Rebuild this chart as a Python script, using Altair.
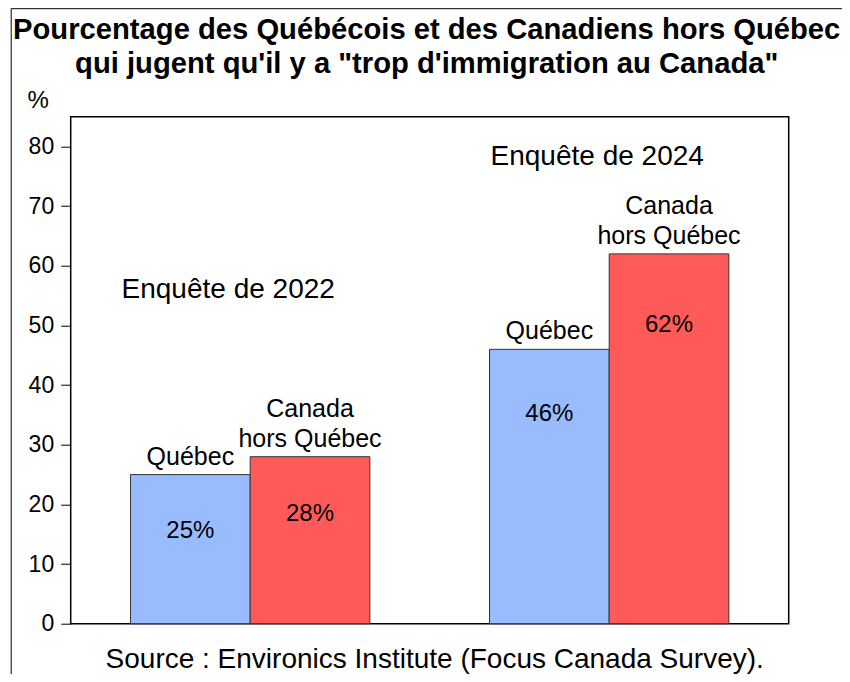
import altair as alt
import pandas as pd

FONT = "Liberation Sans"

years = ["2022", "2024"]
regions = ["Québec", "Canada hors Québec"]
region_labels = ["Québec", "Canada\nhors Québec"]
quebec = [25, 46]
canada_hq = [28, 62]
survey_labels = ["Enquête de 2022", "Enquête de 2024"]
y_ticks = [0, 10, 20, 30, 40, 50, 60, 70, 80]
title_lines = [
    "Pourcentage des Québécois et des Canadiens hors Québec",
    "qui jugent qu'il y a \"trop d'immigration au Canada\"",
]
source_text = "Source : Environics Institute (Focus Canada Survey)."
colors = ["#99BBFF", "#FF5A5A"]

rows = []
for i, yr in enumerate(years):
    rows.append(dict(year=yr, region=regions[0], label=region_labels[0], value=quebec[i]))
    rows.append(dict(year=yr, region=regions[1], label=region_labels[1], value=canada_hq[i]))
df = pd.DataFrame(rows)
df["pct"] = df["value"].astype(str) + "%"

Y_MAX = 85
PLOT_H = 507
LINE_H = 30

xscale = alt.Scale(domain=years, paddingInner=0, paddingOuter=0)
x = alt.X("year:N", sort=years, axis=None, scale=xscale)
xo = alt.XOffset("region:N", sort=regions,
                 scale=alt.Scale(domain=regions, paddingInner=0, paddingOuter=0.5))
yscale = alt.Scale(domain=[0, Y_MAX], nice=False)
yaxis = alt.Axis(values=y_ticks, title="%", titleAngle=0, titleX=-33, titleY=-16,
                 titleAlign="center", titleBaseline="middle", titleFontSize=24,
                 titleFontWeight="normal", titleFont=FONT, titleColor="black",
                 tickSize=10, tickColor="black", tickWidth=1, domain=False,
                 grid=False, labelFontSize=23, labelFont=FONT, labelColor="black",
                 labelPadding=7)

base = alt.Chart(df).encode(x=x, xOffset=xo)

bars = base.mark_bar(stroke="#333333", strokeWidth=1).encode(
    y=alt.Y("value:Q", scale=yscale, axis=yaxis, title="%"),
    fill=alt.Fill("region:N", scale=alt.Scale(domain=regions, range=colors), legend=None),
)

# multi-line labels: raise the first line so that the last line sits just above the bar
names = base.transform_calculate(
    name_y=f"datum.value + {LINE_H * Y_MAX / PLOT_H}*(length(split(datum.label, '\\n'))-1)"
).mark_text(baseline="bottom", dy=-5, lineBreak="\n", fontSize=25,
            font=FONT, lineHeight=LINE_H, color="black").encode(
    y=alt.Y("name_y:Q", scale=yscale, axis=yaxis, title="%"),
    text="label:N",
)

values = base.transform_calculate(label_y="datum.value*0.933-7.8").mark_text(
    baseline="middle", fontSize=24, font=FONT, color="black").encode(
    y=alt.Y("label_y:Q", scale=yscale, axis=yaxis, title="%"),
    text="pct:N",
)

ann_df = pd.DataFrame({"year": years, "t": survey_labels})
ann1 = alt.Chart(ann_df).transform_filter(alt.datum.year == "2022").mark_text(
    fontSize=28, font=FONT, dx=-22, baseline="middle", color="black").encode(
    x=x, y=alt.value(173), text="t:N")
ann2 = alt.Chart(ann_df).transform_filter(alt.datum.year == "2024").mark_text(
    fontSize=28, font=FONT, dx=-12, baseline="middle", color="black").encode(
    x=x, y=alt.value(40), text="t:N")

title = alt.Chart(pd.DataFrame({"t": ["\n".join(title_lines)]})).mark_text(
    fontSize=29.2, font=FONT, fontWeight="bold", baseline="alphabetic", lineBreak="\n",
    lineHeight=34, align="center", color="black").encode(
    x=alt.value(356), y=alt.value(-78), text="t:N")

src = alt.Chart(pd.DataFrame({"t": [source_text]})).mark_text(
    fontSize=28, font=FONT, baseline="alphabetic", color="black").encode(
    x=alt.value(364), y=alt.value(551), text="t:N")

frame_left = alt.Chart(pd.DataFrame({"a": [0]})).mark_rule(color="black", strokeWidth=1).encode(
    x=alt.value(-59.5), y=alt.value(-108), y2=alt.value(700))
frame_top = alt.Chart(pd.DataFrame({"a": [0]})).mark_rule(color="black", strokeWidth=1).encode(
    x=alt.value(-59.5), x2=alt.value(900), y=alt.value(-108))

chart = alt.layer(bars, names, values, ann1, ann2, title, src, frame_left, frame_top).properties(
    width=718,
    height=PLOT_H,
    autosize=alt.AutoSizeParams(type="none"),
    padding={"left": 62.7, "top": 108.7, "right": 53.3, "bottom": 50.3},
).configure(background="white").configure_view(stroke="black", strokeWidth=1.5)

chart.save("out.html", embed_options={"renderer": "svg", "actions": False})
